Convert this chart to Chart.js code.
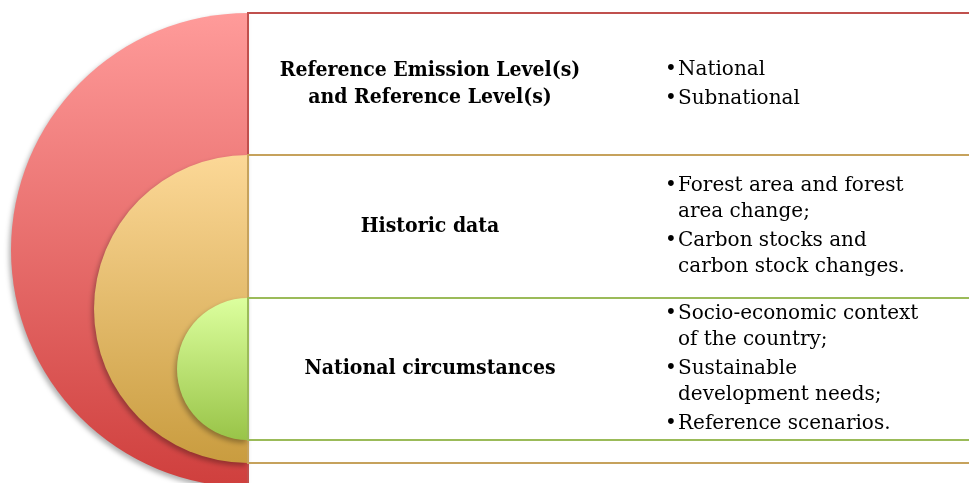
<!DOCTYPE html>
<html>
<head>
<meta charset="utf-8">
<script src="https://cdn.jsdelivr.net/npm/chart.js@4"></script>
<style>
  html, body { margin: 0; padding: 0; background: #fff; }
  #wrap { width: 969px; height: 483px; position: relative; }
</style>
</head>
<body>
<div id="wrap"><canvas id="levelsChart"></canvas></div>
<script>
// ------------------------------
// Diagram content
// ------------------------------
const levelTitles = [
    ['Reference Emission Level(s)', 'and Reference Level(s)'],
    ['Historic data'],
    ['National circumstances']
];

// each bullet is a list of wrapped lines
const levelBullets = [
    [['National'], ['Subnational']],
    [['Forest area and forest', 'area change;'], ['Carbon stocks and', 'carbon stock changes.']],
    [['Socio-economic context', 'of the country;'], ['Sustainable', 'development needs;'], ['Reference scenarios.']]
];

// ------------------------------
// Layout / styles (scale units = pixels)
// ------------------------------
const edgeX = 248;                    // flat side of the half circles
const bandTop = [13, 155, 298];       // top of each nested shape
const bandBottom = [487, 463, 440];   // bottom of each nested shape
const titleX = 430;
const bulletX = 668;
const lineGap = 26, paraGap = 29, titleGap = 27;

const styles = [
    { line: '#c0504d', top: '#ff9b9a', bottom: '#cf3f3d' },
    { line: '#c6a25c', top: '#fcd897', bottom: '#c99c3f' },
    { line: '#9bbb59', top: '#dcff9e', bottom: '#99c448' }
];

const nestedLevels = {
    id: 'nestedLevels',
    beforeDatasetsDraw(chart) {
        const ctx = chart.ctx;
        const xs = chart.scales.x, ys = chart.scales.y;
        const ex = xs.getPixelForValue(edgeX);
        const right = xs.getPixelForValue(990);

        levelTitles.forEach((title, i) => {
            const top = ys.getPixelForValue(bandTop[i]);
            const bot = ys.getPixelForValue(bandBottom[i]);
            const cy = (top + bot) / 2;
            const r = (bot - top) / 2;

            // half circle with soft shadow
            ctx.save();
            const g = ctx.createLinearGradient(0, top, 0, bot);
            g.addColorStop(0, styles[i].top);
            g.addColorStop(1, styles[i].bottom);
            ctx.fillStyle = g;
            ctx.shadowColor = 'rgba(0,0,0,0.3)';
            ctx.shadowBlur = 5;
            ctx.shadowOffsetX = -2;
            ctx.shadowOffsetY = 3;
            ctx.beginPath();
            ctx.moveTo(ex, top);
            ctx.arc(ex, cy, r, -Math.PI / 2, Math.PI / 2, true);
            ctx.closePath();
            ctx.fill();
            ctx.restore();

            // outlined band to the right
            ctx.save();
            ctx.strokeStyle = styles[i].line;
            ctx.lineWidth = 2;
            ctx.strokeRect(ex, top, right - ex, bot - top);
            ctx.restore();
        });

        // texts, centred vertically within each row
        ctx.save();
        ctx.fillStyle = '#000';
        ctx.textBaseline = 'middle';
        levelTitles.forEach((title, i) => {
            const rowTop = bandTop[i];
            const rowBot = i < bandTop.length - 1 ? bandTop[i + 1] : bandBottom[i];
            const mid = (rowTop + rowBot) / 2;

            ctx.font = 'bold 21px "DejaVu Serif Condensed", "DejaVu Serif"';
            ctx.textAlign = 'center';
            const t0 = mid - (title.length - 1) * titleGap / 2;
            title.forEach((ln, k) => {
                ctx.fillText(ln, xs.getPixelForValue(titleX), ys.getPixelForValue(t0 + k * titleGap));
            });

            // bullet lines
            const rows = [];
            let y = 0;
            levelBullets[i].forEach((b, bi) => {
                if (bi > 0) y += paraGap;
                b.forEach((ln, k) => {
                    if (k > 0) y += lineGap;
                    rows.push({ text: ln, y, bullet: k === 0 });
                });
            });
            const off = mid - y / 2;
            ctx.font = '20px "DejaVu Serif"';
            ctx.textAlign = 'left';
            rows.forEach(rw => {
                const py = ys.getPixelForValue(off + rw.y);
                if (rw.bullet) ctx.fillText('\u2022', xs.getPixelForValue(bulletX - 3), py);
                ctx.fillText(rw.text, xs.getPixelForValue(bulletX + 10), py);
            });
        });
        ctx.restore();
    }
};

new Chart(document.getElementById('levelsChart').getContext('2d'), {
    type: 'scatter',
    data: { datasets: [] },
    options: {
        responsive: true,
        maintainAspectRatio: false,
        devicePixelRatio: 1,
        animation: false,
        events: [],
        layout: { padding: 0 },
        plugins: { legend: { display: false }, tooltip: { enabled: false } },
        scales: {
            x: { type: 'linear', min: 0, max: 969, display: false },
            y: { type: 'linear', min: 0, max: 483, reverse: true, display: false }
        }
    },
    plugins: [nestedLevels]
});
</script>
</body>
</html>
